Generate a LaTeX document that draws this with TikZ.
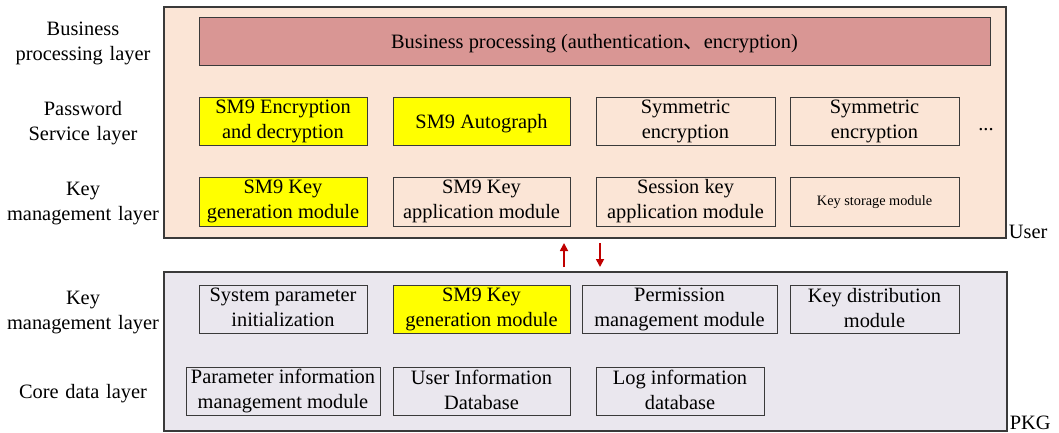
\documentclass[tikz,border=0pt]{standalone}
\usepackage{fontspec}
\setmainfont{Liberation Serif}
\newfontfamily\cjk{Noto Sans CJK SC}
\usetikzlibrary{arrows.meta}
\definecolor{userbg}{HTML}{FBE5D6}
\definecolor{pkgbg}{HTML}{EAE7EE}
\definecolor{barfill}{HTML}{D99694}
\definecolor{hilite}{HTML}{FFFF00}
\definecolor{edge}{HTML}{3A3A3A}
\definecolor{flow}{HTML}{C00000}
\begin{document}
\begin{tikzpicture}[x=1pt,y=-1pt,
  every node/.style={font=\fontsize{20.4}{25}\selectfont, inner sep=0pt, align=center},
  % fixed struts so that every text block sits centred on its letters
  boxtxt/.style={execute at begin node={\rule{0pt}{20pt}}, execute at end node={\rule[-3pt]{0pt}{3pt}}},
  captxt/.style={execute at begin node={\rule{0pt}{19pt}}, execute at end node={\rule[-4pt]{0pt}{4pt}}},
  smalltxt/.style={font=\fontsize{14.3}{17}\selectfont,
    execute at begin node={\rule{0pt}{12pt}}, execute at end node={\rule[-2pt]{0pt}{2pt}}},
  panel/.style={draw=edge, line width=1.3pt},
  frame/.style={draw=edge, line width=0.9pt, minimum height=48pt},
  mod/.style={frame, boxtxt},
  sm9/.style={mod, fill=hilite},
  layer/.style={captxt, text width=170pt},
  flowarrow/.style={draw=flow, line width=1.7pt, -{Triangle[length=8pt,width=8pt]}}
]
\useasboundingbox (0,0) rectangle (1059,433);

% outer panels
\node[panel, fill=userbg, minimum width=842pt, minimum height=231pt] (user) at (585,122.5) {};
\node[panel, fill=pkgbg, minimum width=843pt, minimum height=159pt] (pkg) at (585.5,351.5) {};
\node[anchor=base west] (userlbl) at ([xshift=2pt]user.south east) {User};
\node[anchor=base west] (pkglbl) at ([xshift=2pt,yshift=2pt]pkg.south east) {PKG};

% layer captions
\node[layer] (l1) at (83,40.5) {Business\\processing layer};
\node[layer] (l2) at (83,120.5) {Password\\Service layer};
\node[layer] (l3) at (83,200.5) {Key\\management layer};
\node[layer] (l4) at (83,309.5) {Key\\management layer};
\node[layer] (l5) at (83,391) {Core data layer};

% business processing bar
\node[mod, fill=barfill, minimum width=791pt] (bp) at (594.5,41)
  {Business processing (authentication{\cjk 、}encryption)};

% password service layer
\node[sm9, minimum width=168pt] (s1) at (283,121) {SM9 Encryption\\and decryption};
\node[sm9, minimum width=177pt] (s2) at (481.5,121) {SM9 Autograph};
\node[mod, minimum width=179pt] (s3) at (685.5,121) {Symmetric\\encryption};
\node[mod, minimum width=169pt] (s4) at (874.5,121) {Symmetric\\encryption};
\node[anchor=base] (more) at (986,131) {...};

% user key management layer
\node[sm9, minimum width=168pt, minimum height=49pt] (k1) at (283,201.5) {SM9 Key\\generation module};
\node[mod, minimum width=177pt, minimum height=49pt] (k2) at (481.5,201.5) {SM9 Key\\application module};
\node[mod, minimum width=179pt, minimum height=49pt] (k3) at (685.5,201.5) {Session key\\application module};
\node[frame, smalltxt, minimum width=169pt, minimum height=49pt] (k4) at (874.5,201.5) {Key storage module};

% PKG key management layer
\node[mod, minimum width=168pt] (p1) at (283,309) {System parameter\\initialization};
\node[sm9, minimum width=177pt] (p2) at (481.5,309) {SM9 Key\\generation module};
\node[mod, minimum width=195pt] (p3) at (679.5,309) {Permission\\management module};
\node[mod, minimum width=169pt] (p4) at (874.5,309) {Key distribution\\module};

% core data layer
\node[mod, minimum width=194pt] (d1) at (283,391) {Parameter information\\management module};
\node[mod, minimum width=177pt] (d2) at (481.5,391) {User Information\\Database};
\node[mod, minimum width=168pt] (d3) at (680,391) {Log information\\database};

% exchange between PKG and user
\coordinate (upfrom) at (564,267);
\coordinate (upto) at (564,243);
\coordinate (downfrom) at (600,243);
\coordinate (downto) at (600,267);
\draw[flowarrow] (upfrom) -- (upto);
\draw[flowarrow] (downfrom) -- (downto);
\end{tikzpicture}
\end{document}
